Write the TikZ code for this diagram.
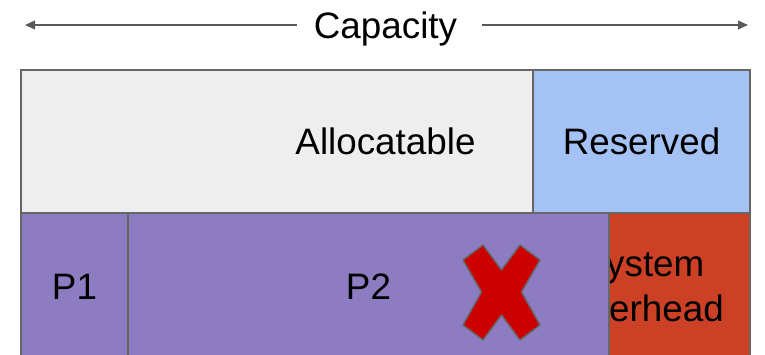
\documentclass[tikz,border=0pt]{standalone}
\usepackage{fontspec}
\setmainfont{Liberation Sans}
\usetikzlibrary{arrows.meta}
\definecolor{edge}{HTML}{666666}
\definecolor{allocfill}{HTML}{EEEEEE}
\definecolor{resfill}{HTML}{A4C2F4}
\definecolor{podfill}{HTML}{8E7CC3}
\definecolor{sysfill}{HTML}{CC4125}
\definecolor{crossfill}{HTML}{CC0000}
\definecolor{arrowgray}{HTML}{595959}
\begin{document}
\begin{tikzpicture}[x=0.75pt,y=-0.75pt,
  lbl/.style={font=\fontsize{27.6}{33.75}\selectfont},
  block/.style={lbl,draw=edge,line width=1.1pt,inner sep=0pt,outer sep=0pt,
    anchor=north west,align=center},
  span/.style={draw=arrowgray,line width=1.4pt,-{Triangle[length=7.5pt,width=6.5pt]}}]
  \fill[white] (0,0) rectangle (765,354);
  \useasboundingbox (0,0) rectangle (765,354);
  \clip (0,0) rectangle (765,354);

  % overall capacity
  \node[lbl,anchor=base] (cap) at (385.5,38) {Capacity};
  \coordinate (capLa) at (297,25);
  \coordinate (capLb) at (25,25);
  \coordinate (capRa) at (482,25);
  \coordinate (capRb) at (748,25);
  \draw[span] (capLa) -- (capLb);
  \draw[span] (capRa) -- (capRb);

  % upper row
  \node[block,fill=allocfill,minimum width=546.75pt,minimum height=107.25pt]
    (alloc) at (21,70) {Allocatable};
  \node[block,fill=resfill,minimum width=162.75pt,minimum height=107.25pt]
    (reserved) at (533,70) {Reserved};

  % lower row
  \node[block,fill=sysfill,minimum width=160.5pt,minimum height=110.25pt]
    (sys) at (536,213) {System\\Overhead};
  \node[block,fill=podfill,minimum width=80.25pt,minimum height=110.25pt]
    (p1) at (21,213) {P1};
  \node[block,fill=podfill,minimum width=360.75pt,minimum height=110.25pt]
    (p2) at (128,213) {P2};
  \draw[edge,line width=1.1pt] (750,213) -- (750,360);

  % rejected pod mark
  \draw[fill=crossfill,draw=edge,line width=1.1pt,line join=round]
    (463,260) -- (483,245) -- (501.5,270) -- (520,245) -- (540,260)
    -- (521.5,292) -- (540,325) -- (520,340) -- (501.5,315) -- (483,340)
    -- (463,325) -- (481.5,292) -- cycle;
\end{tikzpicture}
\end{document}
